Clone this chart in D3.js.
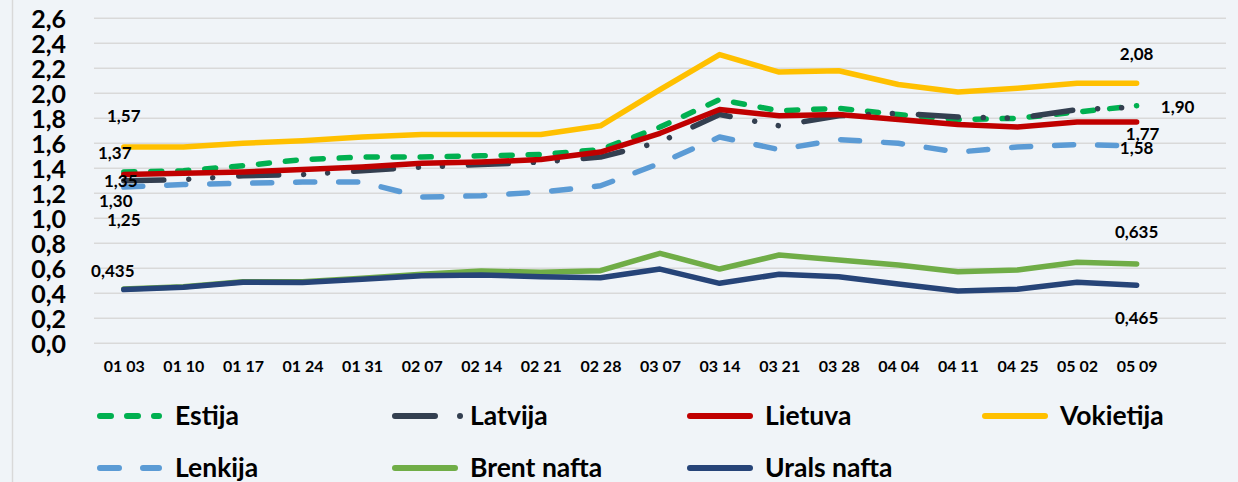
<!DOCTYPE html>
<html>
<head>
<meta charset="utf-8">
<script src="https://cdn.jsdelivr.net/npm/d3@7/dist/d3.min.js"></script>
<style>
  body { margin: 0; background: #f0f4f8; }
  svg { display: block; }
  text { font-family: Lato, "Open Sans", sans-serif; font-weight: bold; fill: #000; }
</style>
</head>
<body>
<svg id="chart" width="1238" height="482"></svg>
<script>
// dates (month day)
var dates = ["01 03", "01 10", "01 17", "01 24", "01 31", "02 07", "02 14", "02 21", "02 28",
             "03 07", "03 14", "03 21", "03 28", "04 04", "04 11", "04 25", "05 02", "05 09"];

var estija    = [1.37, 1.38, 1.42, 1.47, 1.49, 1.49, 1.50, 1.51, 1.55, 1.73, 1.95, 1.86, 1.88, 1.83, 1.79, 1.80, 1.85, 1.90];
var latvija   = [1.30, 1.31, 1.34, 1.35, 1.38, 1.41, 1.43, 1.45, 1.49, 1.61, 1.83, 1.74, 1.82, 1.84, 1.81, 1.80, 1.87, 1.89];
var lietuva   = [1.35, 1.36, 1.37, 1.39, 1.41, 1.44, 1.45, 1.47, 1.53, 1.68, 1.87, 1.82, 1.83, 1.79, 1.75, 1.73, 1.77, 1.77];
var vokietija = [1.57, 1.57, 1.60, 1.62, 1.65, 1.67, 1.67, 1.67, 1.74, 2.03, 2.31, 2.17, 2.18, 2.07, 2.01, 2.04, 2.08, 2.08];
var lenkija   = [1.25, 1.27, 1.28, 1.29, 1.29, 1.17, 1.18, 1.21, 1.26, 1.44, 1.65, 1.55, 1.63, 1.60, 1.53, 1.57, 1.59, 1.58];
var brent     = [0.435, 0.453, 0.493, 0.492, 0.52, 0.552, 0.578, 0.568, 0.581, 0.72, 0.594, 0.706, 0.666, 0.626, 0.573, 0.586, 0.648, 0.635];
var urals     = [0.43, 0.448, 0.488, 0.487, 0.512, 0.541, 0.546, 0.533, 0.525, 0.594, 0.48, 0.552, 0.533, 0.474, 0.418, 0.432, 0.488, 0.465];

var yTicks = [0, 0.2, 0.4, 0.6, 0.8, 1.0, 1.2, 1.4, 1.6, 1.8, 2.0, 2.2, 2.4, 2.6];

var series = [
  {name: "Estija",      values: estija,    color: "#00b050", dash: "11,16",                 leg: 62, first: [-9, -13],  last: [41, 7]},
  {name: "Latvija",     values: latvija,   color: "#333f50", dash: "40,25,0.01,24,0.01,26", leg: 69, first: [-8, 26],   last: null},
  {name: "Lietuva",     values: lietuva,   color: "#c00000", dash: null,                    leg: 63, first: [-3, 12],   last: [6, 18]},
  {name: "Vokietija",   values: vokietija, color: "#ffc000", dash: null,                    leg: 63, first: [0, -25],   last: [0, -23]},
  {name: "Lenkija",     values: lenkija,   color: "#5b9bd5", dash: "19,24",                 leg: 62, first: [0, 39],    last: [0, 8]},
  {name: "Brent nafta", values: brent,     color: "#70ad47", dash: null,                    leg: 63, first: [-11, -12], last: [0, -26], dec: 3},
  {name: "Urals nafta", values: urals,     color: "#264478", dash: null,                    leg: 63, first: null,       last: [0, 39],  dec: 3}
];

var lt = d3.formatLocale({decimal: ",", thousands: " ", grouping: [3], currency: ["", "€"]});

var svg = d3.select("#chart");
var plotLeft = 94, plotRight = 1226, plotTop = 18.3, plotBottom = 343.3;
var step = (plotRight - plotLeft) / 19;

var x = d3.scalePoint()
  .domain(dates)
  .range([plotLeft, plotLeft + step * dates.length])
  .padding(0.5);

var y = d3.scaleLinear().domain([0, 2.6]).range([plotBottom, plotTop]);

// left border
svg.append("line")
  .attr("x1", 12.5).attr("x2", 12.5).attr("y1", 0).attr("y2", 482)
  .style("stroke", "#d9d9d9").style("stroke-width", 1.5);

// grid
svg.append("g").selectAll("line")
  .data(yTicks)
  .enter()
  .append("line")
  .attr("x1", plotLeft).attr("x2", plotRight)
  .attr("y1", function(d) { return y(d); })
  .attr("y2", function(d) { return y(d); })
  .style("stroke", "#d9d9d9").style("stroke-width", 1.5);

// y axis
var yAxis = svg.append("g")
  .attr("transform", "translate(66,0)")
  .call(d3.axisLeft(y).tickValues(yTicks).tickSize(0).tickPadding(0).tickFormat(lt.format(".1f")));
yAxis.select(".domain").remove();
yAxis.selectAll("text").style("font-size", "25px").style("font-family", null).attr("dy", "0.36em");

// x axis
var xAxis = svg.append("g")
  .attr("transform", "translate(0," + 361 + ")")
  .call(d3.axisBottom(x).tickSize(0).tickPadding(0));
xAxis.select(".domain").remove();
xAxis.selectAll("text").style("font-size", "16px").style("font-family", null).attr("dy", "0.71em");

// lines
var line = d3.line()
  .x(function(d, i) { return x(dates[i]); })
  .y(function(d) { return y(d); });

series.forEach(function(s) {
  svg.append("path")
    .attr("d", line(s.values))
    .style("fill", "none")
    .style("stroke", s.color)
    .style("stroke-width", 5.5)
    .style("stroke-linejoin", "round")
    .style("stroke-linecap", "round")
    .style("stroke-dasharray", s.dash);
});

// data labels
series.forEach(function(s) {
  var fmt = lt.format("." + (s.dec || 2) + "f");
  var n = s.values.length - 1;
  if (s.first) {
    svg.append("text")
      .attr("x", x(dates[0]) + s.first[0])
      .attr("y", y(s.values[0]) + s.first[1])
      .attr("text-anchor", "middle")
      .style("font-size", "17px")
      .text(fmt(s.values[0]));
  }
  if (s.last) {
    svg.append("text")
      .attr("x", x(dates[n]) + s.last[0])
      .attr("y", y(s.values[n]) + s.last[1])
      .attr("text-anchor", "middle")
      .style("font-size", "17px")
      .text(fmt(s.values[n]));
  }
});

// legend
var legend = svg.append("g").selectAll("g")
  .data(series)
  .enter()
  .append("g")
  .attr("transform", function(d, i) {
    return "translate(" + (97 + (i % 4) * 295) + "," + (416 + Math.floor(i / 4) * 52) + ")";
  });

legend.append("line")
  .attr("x1", 3).attr("y1", 0).attr("y2", 0)
  .attr("x2", function(d) { return d.leg; })
  .style("stroke", function(d) { return d.color; })
  .style("stroke-width", 6)
  .style("stroke-linecap", "round")
  .style("stroke-dasharray", function(d) { return d.dash; });

legend.append("text")
  .attr("x", 78)
  .attr("y", 9)
  .style("font-size", "26.5px")
  .text(function(d) { return d.name; });
</script>
</body>
</html>
